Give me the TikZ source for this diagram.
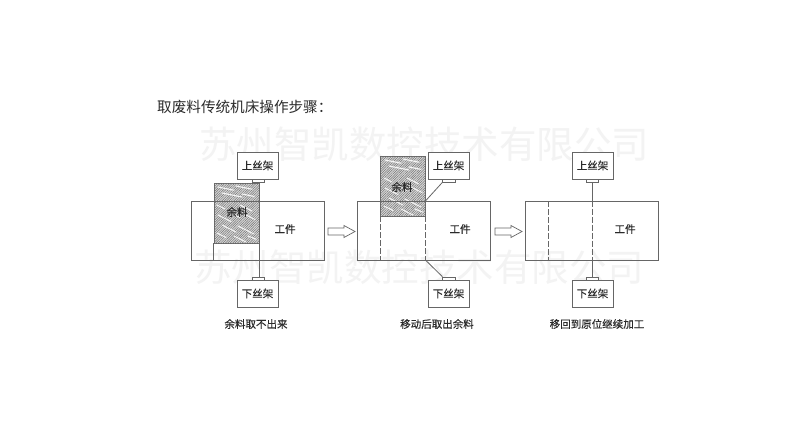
\documentclass[tikz,border=0pt]{standalone}
\usepackage{fontspec}
\setmainfont{Noto Sans CJK SC}
\newfontfamily\labfont[FakeBold=0.35]{Noto Sans CJK SC}
\usetikzlibrary{patterns,patterns.meta,calc}
\definecolor{ln}{HTML}{666666}
\definecolor{tx}{HTML}{2A2A2A}
\definecolor{wm}{HTML}{F3F3F3}
\tikzset{
  x=1pt,y=-1pt,
  box/.style={draw=ln,line width=0.8pt,fill=white,inner sep=0pt,minimum width=41pt,minimum height=27pt,font=\labfont\fontsize{10.5}{12}\selectfont,text=tx},
  tabbox/.style={draw=ln,line width=0.7pt,fill=white,inner sep=0pt,minimum width=12.5pt,minimum height=3pt},
  piece/.style={draw=ln,line width=0.8pt,inner sep=0pt,minimum width=133pt,minimum height=59pt},
  hatchbox/.style={draw=ln,line width=0.6pt,inner sep=0pt,minimum width=45pt,minimum height=60pt,fill=gray!30,postaction={pattern={Lines[angle=45,distance=1.7pt,line width=0.5pt]},pattern color=black!55}},
  lab/.style={inner sep=0pt,text=tx,font=\labfont\fontsize{10.5}{12}\selectfont},
  captext/.style={inner sep=0pt,text=tx,font=\labfont\fontsize{10.5}{12}\selectfont},
  conn/.style={draw=ln,line width=0.8pt},
  dashconn/.style={draw=ln,line width=0.8pt,dash pattern=on 6pt off 2pt},
  barrow/.style={draw=ln,line width=0.7pt,fill=white,line join=miter},
  wmark/.style={inner sep=0pt,text=wm,font=\fontsize{37.5}{40}\selectfont},
  squig/.style={white!92!gray,line width=1.1pt,line cap=round}
}
\newcommand{\squiggles}[2]{%
  \foreach \dx/\dy/\len/\sl in {4/4/16/0.2,22/3/16/0.2,8/10/20/0.2,28/11/12/0.2,3/22/8/0.5,26/22/12/0.5,4/32/13/0.5,17/30/9/0.5,30/31/11/0.5,8/42/14/0.5,24/43/16/0.5,3/50/9/0.5,20/53/12/0.5,34/53/8/0.4}{
    \draw[squig] ($(#1,#2)+(\dx,\dy)$) -- ++(\len,{\sl*\len});
  }}
\newcommand{\blockarrow}[1]{%
  \draw[barrow] (#1) ++(0,-3.5) -- ++(16,0) -- ++(0,-2.5) -- ++(11,6) -- ++(-11,6) -- ++(0,-2.5) -- ++(-16,0) -- cycle;}
\begin{document}
\begin{tikzpicture}
\useasboundingbox (0,0) rectangle (800,442);
\fill[white] (0,0) rectangle (800,442);
% watermarks
\node[wmark] (wmA) at (424,144) {苏州智凯数控技术有限公司};
\node[wmark] (wmB) at (419,267) {苏州智凯数控技术有限公司};
% title
\node[inner sep=0pt,anchor=west,text=tx,font=\fontsize{14.6}{16}\selectfont] (title) at (157,107) {取废料传统机床操作步骤：};

% panel 1
\node[piece] (wpA) at (257.5,230.5) {};
\node[hatchbox] (hA) at (236.5,213) {};
\squiggles{214}{183}
\draw[conn] (214,201) -- (259,201);
\node[lab] (yuA) at (237,212) {余料};
\node[lab] (gA) at (285,229) {工件};
\node[box] (upA) at (257.5,165.5) {上丝架};
\node[box] (loA) at (257.5,293.5) {下丝架};
\node[tabbox] (utA) at (258.5,180.5) {};
\node[tabbox] (ltA) at (258.5,278.5) {};
\draw[conn] (hA.south west) -- (hA.south west |- wpA.south);
\draw[conn] (hA.south east) -- (hA.south east |- ltA.north);
\node[captext] (cA) at (256,324) {余料取不出来};

\coordinate (arA) at (328,231.5);
\blockarrow{arA}

% panel 2
\node[piece] (wpB) at (424,230.5) {};
\node[hatchbox] (hB) at (403,186) {};
\squiggles{381}{156}
\draw[conn] (381,201) -- (425,201);
\node[lab] (yuB) at (402,187) {余料};
\node[lab] (gB) at (460,229) {工件};
\node[box] (upB) at (448.5,165.5) {上丝架};
\node[box] (loB) at (448.5,293.5) {下丝架};
\node[tabbox] (utB) at (449,180.5) {};
\node[tabbox] (ltB) at (449,278.5) {};
\draw[dashconn] (hB.south west) -- (hB.south west |- wpB.south);
\draw[dashconn] (hB.south east) -- (hB.south east |- wpB.south);
\coordinate (tB) at (hB.south east |- wpB.north);
\coordinate (bB) at (hB.south east |- wpB.south);
\draw[conn] (utB.south west) -- (tB);
\draw[conn] (bB) -- (ltB.north west);
\node[captext] (cB) at (437,324) {移动后取出余料};

\coordinate (arB) at (495,231.5);
\blockarrow{arB}

% panel 3
\node[piece] (wpC) at (592,230.5) {};
\node[lab] (gC) at (625,229) {工件};
\node[box] (upC) at (592.5,165.5) {上丝架};
\node[box] (loC) at (592.5,293.5) {下丝架};
\node[tabbox] (utC) at (592.5,180.5) {};
\node[tabbox] (ltC) at (592.5,278.5) {};
\coordinate (dC) at (548,201);
\draw[dashconn] (dC) -- (dC |- wpC.south);
\draw[conn] (utC.south) -- (utC.south |- wpC.north);
\draw[dashconn] (utC.south |- wpC.north) -- (utC.south |- wpC.south);
\draw[conn] (utC.south |- wpC.south) -- (ltC.north);
\node[captext] (cC) at (597,324) {移回到原位继续加工};
\end{tikzpicture}
\end{document}
